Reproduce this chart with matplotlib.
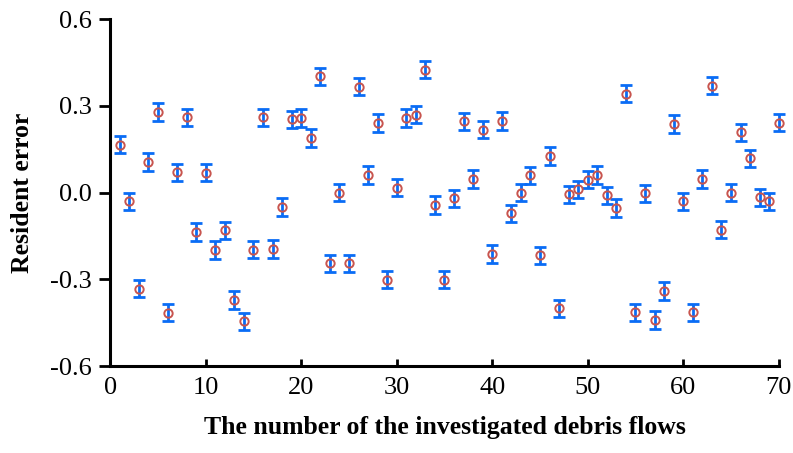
import matplotlib
matplotlib.use("Agg")
import matplotlib.pyplot as plt

# debris flow number and resident error
numero = list(range(1, 71))
residuo = [0.166, -0.031, -0.333, 0.105, 0.279, -0.416, 0.070, 0.260, -0.136, 0.069,
           -0.199, -0.131, -0.372, -0.445, -0.198, 0.260, -0.195, -0.050, 0.253, 0.258,
           0.189, 0.402, -0.245, 0.000, -0.245, 0.366, 0.061, 0.241, -0.301, 0.017,
           0.258, 0.269, 0.425, -0.043, -0.301, -0.020, 0.246, 0.047, 0.217, -0.213,
           0.247, -0.072, -0.001, 0.059, -0.217, 0.126, -0.400, -0.006, 0.011, 0.045,
           0.061, -0.010, -0.054, 0.342, -0.414, -0.003, -0.441, -0.341, 0.237, -0.031,
           -0.414, 0.047, 0.370, -0.128, 0.000, 0.208, 0.118, -0.017, -0.031, 0.242]
error = [0.03] * 70

plt.rcParams["font.family"] = ["Liberation Serif", "DejaVu Serif"]

fig = plt.figure(figsize=(7.93, 4.53), dpi=100)
ax = fig.add_axes([0.139, 0.192, 0.843, 0.766])

ax.errorbar(numero, residuo, yerr=error, fmt="none", ecolor="#0a6cf5",
            elinewidth=2, capsize=4, capthick=2, clip_on=False, zorder=2)
ax.plot(numero, residuo, "o", mfc="none", mec="#c8554f", mew=1.4, ms=6,
        clip_on=False, zorder=3)

ax.set_xlim(0, 70)
ax.set_ylim(-0.6, 0.6)
ax.set_xticks([0, 10, 20, 30, 40, 50, 60, 70])
ax.set_yticks([-0.6, -0.3, 0.0, 0.3, 0.6])
ax.set_yticklabels(["-0.6", "-0.3", "0.0", "0.3", "0.6"])

for lado in ["top", "right"]:
    ax.spines[lado].set_visible(False)
for lado in ["left", "bottom"]:
    ax.spines[lado].set_linewidth(2.2)

ax.tick_params(axis="y", direction="out", length=8, width=2, labelsize=19, pad=5)
ax.tick_params(axis="x", direction="in", length=5, width=2, labelsize=19, pad=8)

ax.set_xlabel("The number of the investigated debris flows", fontsize=18.5,
              fontweight="bold", labelpad=12)
ax.set_ylabel("Resident error", fontsize=18.5, fontweight="bold", labelpad=12)

plt.savefig("out.png", dpi=100)
